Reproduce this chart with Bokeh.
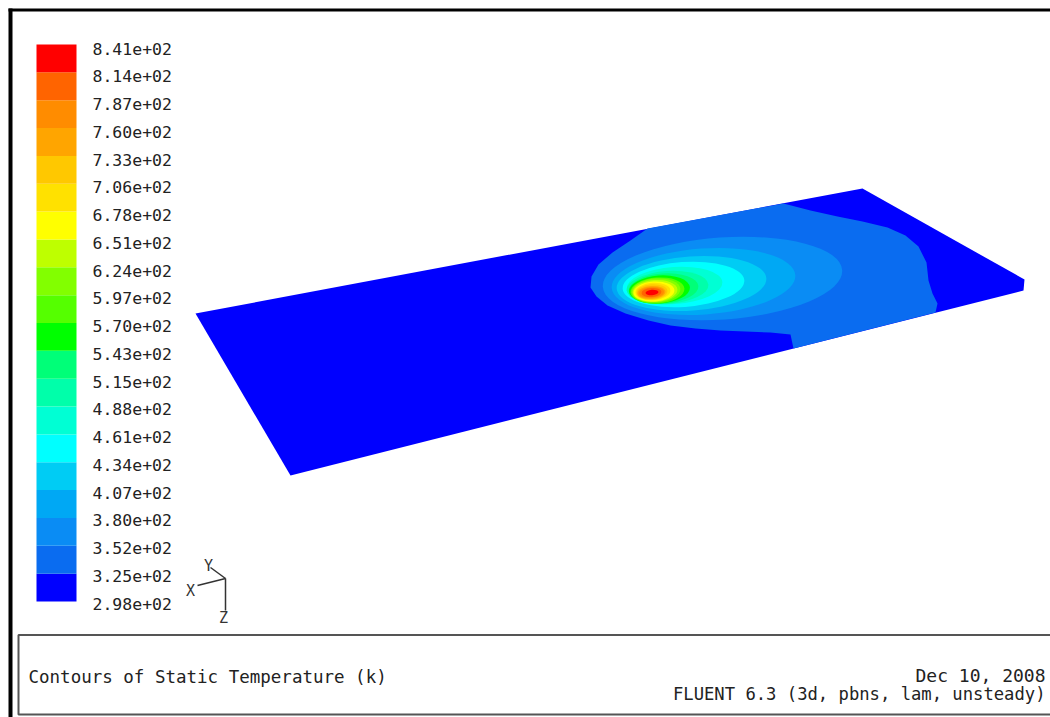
from bokeh.plotting import figure
from bokeh.embed import file_html
from bokeh.resources import INLINE
from bokeh.core.properties import value
import math

# Colour-scale labels, top to bottom
scale_labels = ["8.41e+02","8.14e+02","7.87e+02","7.60e+02","7.33e+02","7.06e+02","6.78e+02",
                "6.51e+02","6.24e+02","5.97e+02","5.70e+02","5.43e+02","5.15e+02","4.88e+02",
                "4.61e+02","4.34e+02","4.07e+02","3.80e+02","3.52e+02","3.25e+02","2.98e+02"]
# Band colours, bottom (2.98e+02) to top (8.41e+02)
band_colors = ["#0000ff","#0a6cf0","#0a8cf4","#00a8f4","#00ccf4","#00ffff","#00ffd4","#00ffaa",
               "#00ff78","#00ff00","#55ff00","#82ff00","#beff00","#ffff00","#ffe100","#ffc800",
               "#ffa500","#ff8c00","#ff6400","#ff0000"]

# Plate outline and the outer contour
plate_x = [195, 862, 1024, 1023, 290]
plate_y = [313, 188, 279, 290, 475]
outer_x = [647,630,612,598,591,590,596,607,625,648,670,695,720,770,790,793,935,937,932,928,926,918,905,887,862,837,810,783]
outer_y = [228,240,252,264,276,287,296,305,313,320,325,328,330,332,334,348,312,303,293,280,262,246,235,227,221,216,210,203]

# Inner contours: band index, centre, width, height
level_band = [2,3,4,5,6,7,8,9,10,11,12,13,14,15,16,17,18,19]
level_cx = [722,703,691,683,674,667,663,659,657,655.5,654.5,653.5,652.5,651.5,651,651,651,651.5]
level_cy = [278,281,283,284,285,287,288,289,290,290,290.5,291,291,291.5,292,292,292,292]
level_w  = [240,184,150,122,96,82,70,61,54,49,45,41,35,31,28,25,20,13]
level_h  = [82,66,54,45,37,33,30,28,26,24,22,20,17.5,15.5,13,11,9,5.5]

# Axis triad
triad_x = [[225,197],[225,210],[225,225]]
triad_y = [[578,585],[578,567],[578,610]]
triad_names = ["X","Y","Z"]
triad_lx = [190,208,223]
triad_ly = [590,565,617]

title_left = "Contours of Static Temperature (k)"
date_text = "Dec 10, 2008"
solver_text = "FLUENT 6.3 (3d, pbns, lam, unsteady)"

p = figure(width=1050, height=717, x_range=(0,1050), y_range=(717,0),
           toolbar_location=None, output_backend="svg", min_border=0,
           x_axis_location=None, y_axis_location=None, outline_line_color=None,
           background_fill_color="white", border_fill_color="white")
p.grid.visible = False
FONT = value("DejaVu Sans Mono")

# Frame
p.quad(left=[8,8], right=[12,1050], top=[8,8], bottom=[717,11], color="black", line_color=None)

# Colour bar
n = len(band_colors)
bar_top, bar_bottom = 44, 601
step = (bar_bottom-bar_top)/n
p.quad(left=36, right=76,
       top=[bar_bottom-(i+1)*step for i in range(n)],
       bottom=[bar_bottom-i*step for i in range(n)],
       color=band_colors, line_color=None)
lab_step = (603-48)/(len(scale_labels)-1)
p.text(x=92, y=[48+i*lab_step for i in range(len(scale_labels))], text=scale_labels,
       text_font=FONT, text_font_size="16.5px", text_color="#222222",
       text_baseline="middle", text_align="left")

# Plate and contours
p.patch(plate_x, plate_y, color=band_colors[0], line_color=None)
p.patch(outer_x, outer_y, color=band_colors[1], line_color=None)
p.ellipse(x=level_cx, y=level_cy, width=level_w, height=level_h,
          angle=[math.radians(4)]*len(level_band),
          color=[band_colors[b] for b in level_band], line_color=None)

# Triad
p.multi_line(triad_x, triad_y, line_color="#333333", line_width=1.5)
p.text(x=triad_lx, y=triad_ly, text=triad_names, text_font=FONT, text_font_size="15px",
       text_color="#333333", text_baseline="middle", text_align="center")

# Caption box
p.quad(left=18, right=1052, top=634.5, bottom=714, fill_color="white",
       line_color="#555555", line_width=2)
p.text(x=[28], y=[676], text=[title_left], text_font=FONT, text_font_size="17.5px",
       text_color="#222222", text_baseline="middle", text_align="left")
p.text(x=[1045], y=[675], text=[date_text], text_font=FONT,
       text_font_size="18px", text_color="#222222", text_baseline="middle", text_align="right")
p.text(x=[1045], y=[693], text=[solver_text], text_font=FONT,
       text_font_size="17.2px", text_color="#222222", text_baseline="middle", text_align="right")

open("out.html","w").write(file_html(p, INLINE))
